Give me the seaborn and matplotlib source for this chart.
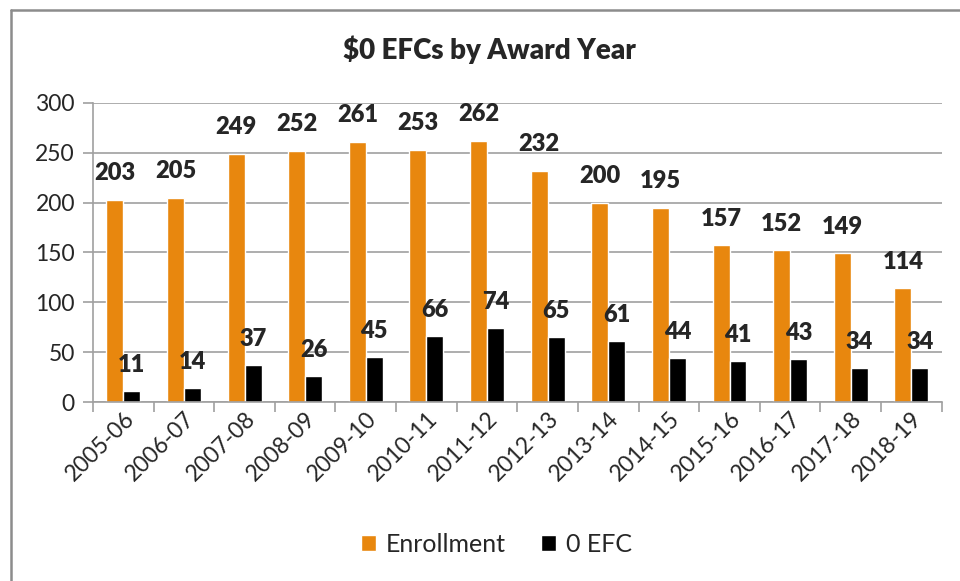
import matplotlib
matplotlib.use("Agg")
import matplotlib.pyplot as plt
import seaborn as sns
import pandas as pd
from matplotlib.lines import Line2D

years = ["2005-06", "2006-07", "2007-08", "2008-09", "2009-10", "2010-11", "2011-12",
         "2012-13", "2013-14", "2014-15", "2015-16", "2016-17", "2017-18", "2018-19"]
enrollment = [203, 205, 249, 252, 261, 253, 262, 232, 200, 195, 157, 152, 149, 114]
zero_efc = [11, 14, 37, 26, 45, 66, 74, 65, 61, 44, 41, 43, 34, 34]
series_names = ["Enrollment", "0 EFC"]
colors = ["#E8870E", "#000000"]

df = pd.DataFrame({
    "year": years * 2,
    "count": enrollment + zero_efc,
    "series": [series_names[0]] * len(years) + [series_names[1]] * len(years),
})

sns.set_style("white")
plt.rcParams["font.family"] = ["Lato", "DejaVu Sans"]

fig = plt.figure(figsize=(9.6, 5.81), dpi=100)
ax = fig.add_axes([0.0969, 0.308, 0.884, 0.515])

sns.barplot(data=df, x="year", y="count", hue="series", palette=colors,
            width=0.56, saturation=1, ax=ax, legend=True)

# value labels
for cont in ax.containers:
    ax.bar_label(cont, padding=11, fontsize=17, fontweight="heavy")

ax.set_ylim(0, 300)
ax.set_xlim(-0.5, len(years) - 0.5)
ax.set_yticks(range(0, 301, 50))
ax.yaxis.grid(True, color="#A0A0A0", linewidth=1.2)
ax.set_axisbelow(True)
ax.set_xlabel("")
ax.set_ylabel("")

for side in ["top", "right"]:
    ax.spines[side].set_visible(False)
for side in ["left", "bottom"]:
    ax.spines[side].set_color("#A0A0A0")
    ax.spines[side].set_linewidth(1.2)

ax.tick_params(axis="y", labelsize=16.5, length=7, color="#A0A0A0", width=1.2, left=True, pad=6)
ax.tick_params(axis="x", labelsize=16.5, length=0, pad=4)
ax.set_xticks(range(len(years)))
ax.set_xticklabels(years, rotation=45, ha="right", rotation_mode="anchor")
# category boundary ticks
ax.set_xticks([i - 0.5 for i in range(len(years) + 1)], minor=True)
ax.tick_params(axis="x", which="minor", length=7, color="#A0A0A0", width=1.2, bottom=True)

fig.text(489 / 960, 1 - 50 / 581, "$0 EFCs by Award Year", fontsize=20,
         fontweight="heavy", ha="center", va="center")

ax.legend(loc="center", bbox_to_anchor=(0.475, -0.475), ncol=2, frameon=False,
          fontsize=18, handlelength=0.6, handleheight=0.6, handletextpad=0.4,
          columnspacing=1.4)

# outer chart border (top and left edges visible)
fig.lines.append(Line2D([11 / 960, 1], [1 - 10 / 581, 1 - 10 / 581],
                        transform=fig.transFigure, color="#8C8C8C", linewidth=1.8))
fig.lines.append(Line2D([11 / 960, 11 / 960], [0, 1 - 10 / 581],
                        transform=fig.transFigure, color="#8C8C8C", linewidth=1.8))

fig.savefig("out.png", dpi=100)
